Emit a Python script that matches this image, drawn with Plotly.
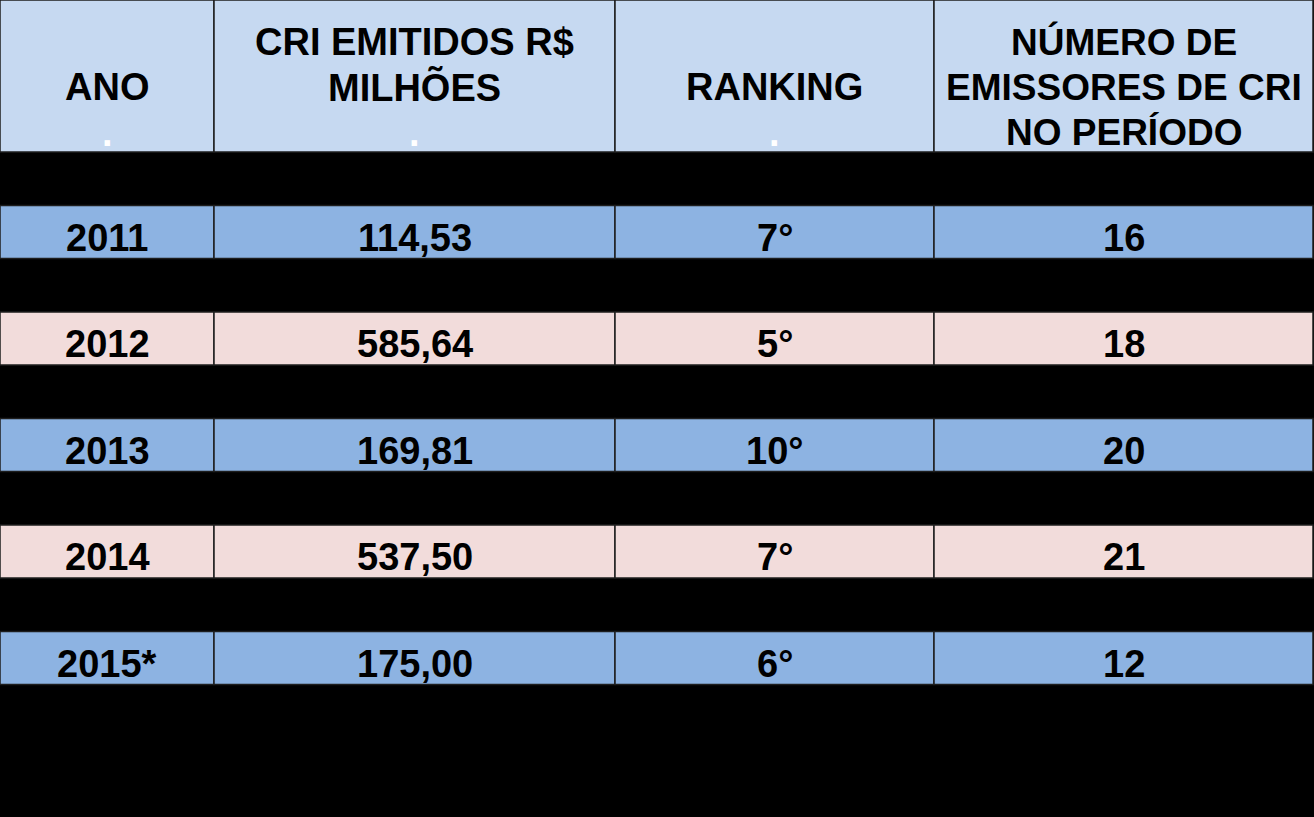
import plotly.graph_objects as go

# ---- data ----
anos = ["2011", "2012", "2013", "2014", "2015*"]
cri_emitidos = ["114,53", "585,64", "169,81", "537,50", "175,00"]
ranking = ["7°", "5°", "10°", "7°", "6°"]
num_emissores = ["16", "18", "20", "21", "12"]
header_lines = [
    ["", "ANO", "."],
    ["CRI EMITIDOS R$", "MILHÕES", "."],
    ["", "RANKING", "."],
    ["NÚMERO DE", "EMISSORES DE CRI", "NO PERÍODO"],
]

# ---- layout / style ----
W, H = 1314, 817
col_widths = [214, 401, 319, 379]
header_h = 152
gap_h = 53.5
row_h = 53
header_line_top = 41.5
header_line_pitch = 45.5
text_offset = 5.5
header_fill = "#c6d9f1"
row_fills = ["#8db3e2", "#f2dcdb"]
line_color = "#1e1e1e"
FONT = "Liberation Sans, Arial, sans-serif"
FS = 38
header_sizes = [38, 38, 38, 37]

edges = [0]
for w in col_widths:
    edges.append(edges[-1] + w)

columns = [anos, cri_emitidos, ranking, num_emissores]

fig = go.Figure()
shapes = []
annotations = []

# header cells
for c in range(len(col_widths)):
    shapes.append(dict(type="rect", xref="x", yref="y", x0=edges[c], x1=edges[c + 1],
                       y0=0, y1=header_h, fillcolor=header_fill,
                       line=dict(color=line_color, width=1.5), layer="below"))
    xc = (edges[c] + edges[c + 1]) / 2
    for i, txt in enumerate(header_lines[c]):
        if not txt:
            continue
        annotations.append(dict(x=xc, y=header_line_top + i * header_line_pitch, xref="x", yref="y",
                                text="<b>%s</b>" % txt, showarrow=False,
                                xanchor="center", yanchor="middle",
                                font=dict(family=FONT, size=header_sizes[c],
                                          color="white" if txt == "." else "black")))

# body cells
for r in range(len(anos)):
    top = header_h + gap_h + r * (row_h + gap_h)
    fill = row_fills[r % 2]
    for c in range(len(col_widths)):
        shapes.append(dict(type="rect", xref="x", yref="y", x0=edges[c], x1=edges[c + 1],
                           y0=top, y1=top + row_h, fillcolor=fill,
                           line=dict(color=line_color, width=1.5), layer="below"))
        annotations.append(dict(x=(edges[c] + edges[c + 1]) / 2, y=top + row_h / 2 + text_offset,
                                xref="x", yref="y", text="<b>%s</b>" % columns[c][r],
                                showarrow=False, xanchor="center", yanchor="middle",
                                font=dict(family=FONT, size=FS, color="black")))

fig.update_layout(
    width=W, height=H,
    margin=dict(l=0, r=0, t=0, b=0),
    paper_bgcolor="black", plot_bgcolor="black",
    xaxis=dict(range=[0, W], visible=False, fixedrange=True),
    yaxis=dict(range=[H, 0], visible=False, fixedrange=True),
    shapes=shapes, annotations=annotations, showlegend=False,
)

fig.write_html("out.html",
               config={"displayModeBar": False, "staticPlot": True},
               post_script="document.body.style.margin='0';document.body.style.background='black';")
